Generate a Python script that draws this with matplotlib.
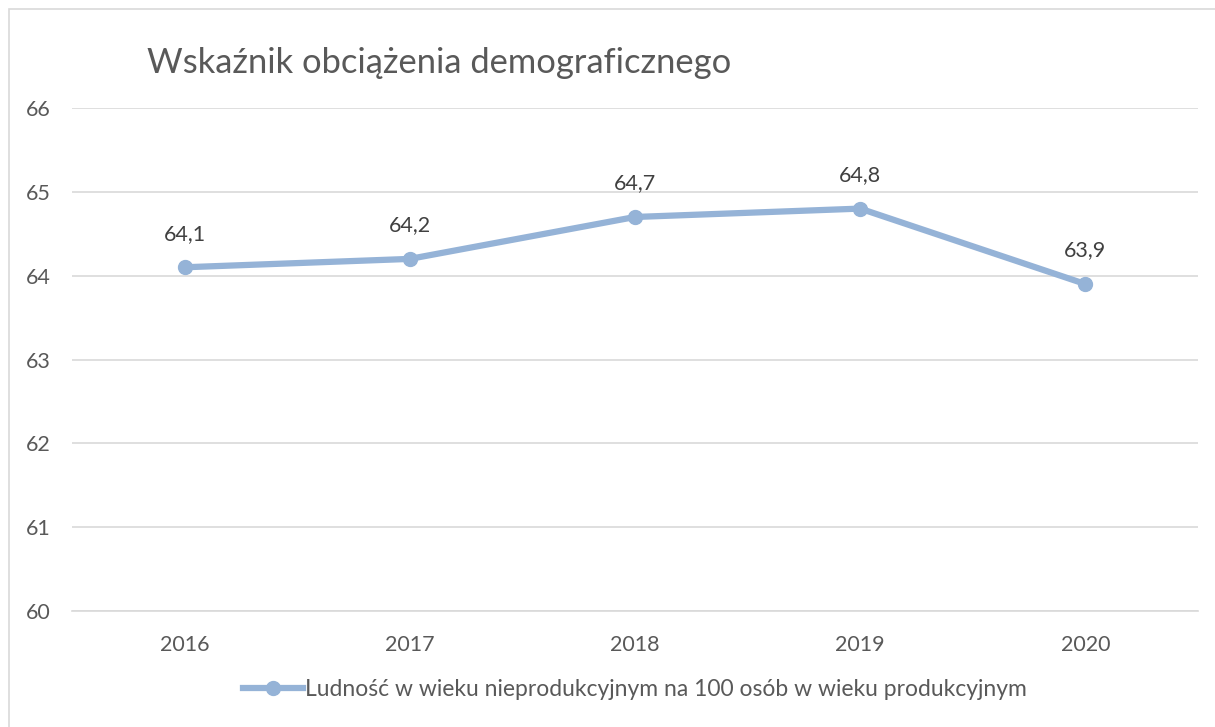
import matplotlib
matplotlib.use("Agg")
import matplotlib.pyplot as plt
from matplotlib.patches import Rectangle
from matplotlib.lines import Line2D

years = ["2016", "2017", "2018", "2019", "2020"]
values = [64.1, 64.2, 64.7, 64.8, 63.9]
labels = ["64,1", "64,2", "64,7", "64,8", "63,9"]
yticks = [60, 61, 62, 63, 64, 65, 66]
title = "Wskaźnik obciążenia demograficznego"
series_name = "Ludność w wieku nieprodukcyjnym na 100 osób w wieku produkcyjnym"

plt.rcParams['font.family'] = ['Lato', 'DejaVu Sans']
W, H = 1215, 727
fig = plt.figure(figsize=(W/100, H/100), dpi=100)
fig.patch.set_facecolor('white')
fig.patches.append(Rectangle((9/W, -0.01), (W-10-9)/W+0.02, (H-9)/H+0.01, transform=fig.transFigure,
                             fill=False, edgecolor='#d9d9d9', linewidth=1.2))

ax = fig.add_axes([72/W, 1-611/H, (1198-72)/W, (611-108)/H])
x = list(range(len(years)))
color = '#95b3d7'
ax.plot(x, values, color=color, linewidth=4.5, marker='o', markersize=10, solid_capstyle='round', zorder=3)
for xi, v, lab in zip(x, values, labels):
    ax.annotate(lab, (xi, v), xytext=(0, 17), textcoords='offset points', ha='center', va='bottom',
                fontsize=15.5, color='#404040')
ax.set_xlim(-0.5, len(years)-0.5)
ax.set_ylim(60, 66)
ax.set_yticks(yticks)
ax.set_yticklabels([str(t) for t in yticks])
ax.set_xticks(x)
ax.set_xticklabels(years)
ax.grid(axis='y', color='#d9d9d9', linewidth=1.2)
ax.set_axisbelow(True)
for s in ['top', 'right', 'left']:
    ax.spines[s].set_visible(False)
ax.spines['bottom'].set_color('#d9d9d9')
ax.spines['bottom'].set_linewidth(1.2)
ax.tick_params(axis='both', length=0, labelsize=15.5, labelcolor='#595959')
ax.tick_params(axis='y', pad=33)
ax.tick_params(axis='x', pad=17)
for t in ax.get_yticklabels():
    t.set_horizontalalignment('left')

fig.text(147/W, 1-63/H, title, fontsize=24.8, color='#595959', ha='left', va='center')

handle = Line2D([], [], color=color, linewidth=4.5, marker='o', markersize=10)
fig.legend([handle], [series_name], loc='center', bbox_to_anchor=(635/W, 1-690/H), frameon=False,
           fontsize=16.5, labelcolor='#595959', handlelength=2.6, handletextpad=0.1)

fig.savefig("out.png", dpi=100)
